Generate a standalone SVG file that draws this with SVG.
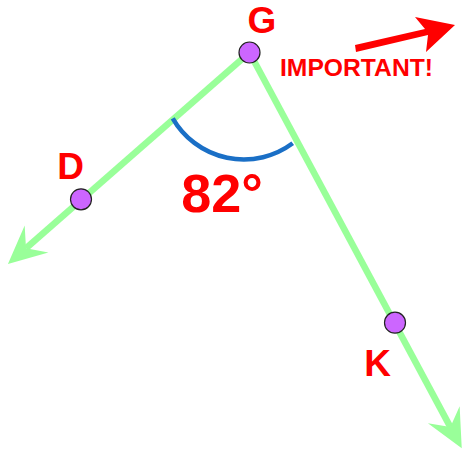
<svg xmlns="http://www.w3.org/2000/svg" width="462" height="454" viewBox="0 0 462 454">
<style>
.ray{stroke:#99ff99;stroke-width:6.5;fill:none}
.pt{fill:#cc66ff;stroke:#222;stroke-width:1.2}
.lbl{font-family:"Liberation Sans",Arial,sans-serif;font-weight:bold;fill:#ff0000;text-anchor:middle}
</style>
<defs>
<marker id="ah" markerUnits="userSpaceOnUse" viewBox="-40 -20 42 40" refX="-24" refY="0" markerWidth="42" markerHeight="40" orient="auto">
<path d="M0,0 L-38,-18 L-24,0 L-38,18 Z" fill="#99ff99"/>
</marker>
</defs>
<rect width="462" height="454" fill="#ffffff"/>
<g id="connectors">
<line class="ray" x1="249.5" y1="52.5" x2="26" y2="248.2" marker-end="url(#ah)"/>
<line class="ray" x1="249.5" y1="52.5" x2="450.4" y2="427.1" marker-end="url(#ah)"/>
</g>
<g id="angle">
<path d="M172.7,118.3 A82,82 0 0 0 292.7,143.3" fill="none" stroke="#1a6fc6" stroke-width="4.5"/>
<text class="lbl" x="222" y="212" font-size="54">82°</text>
</g>
<g id="node-G">
<circle class="pt" cx="249.5" cy="52.5" r="10.5"/>
<text class="lbl" x="262" y="33" font-size="37">G</text>
</g>
<g id="node-D">
<circle class="pt" cx="81" cy="199.3" r="10.5"/>
<text class="lbl" x="70.5" y="179" font-size="37">D</text>
</g>
<g id="node-K">
<circle class="pt" cx="395" cy="322.7" r="10.5"/>
<text class="lbl" x="377.5" y="376" font-size="37">K</text>
</g>
<g id="important">
<polygon points="355,45 425,29 415,17 455,25 426,52 428,35 356,52" fill="#ff0000"/>
<text class="lbl" x="356.5" y="76" font-size="24" textLength="153" lengthAdjust="spacingAndGlyphs">IMPORTANT!</text>
</g>
</svg>
